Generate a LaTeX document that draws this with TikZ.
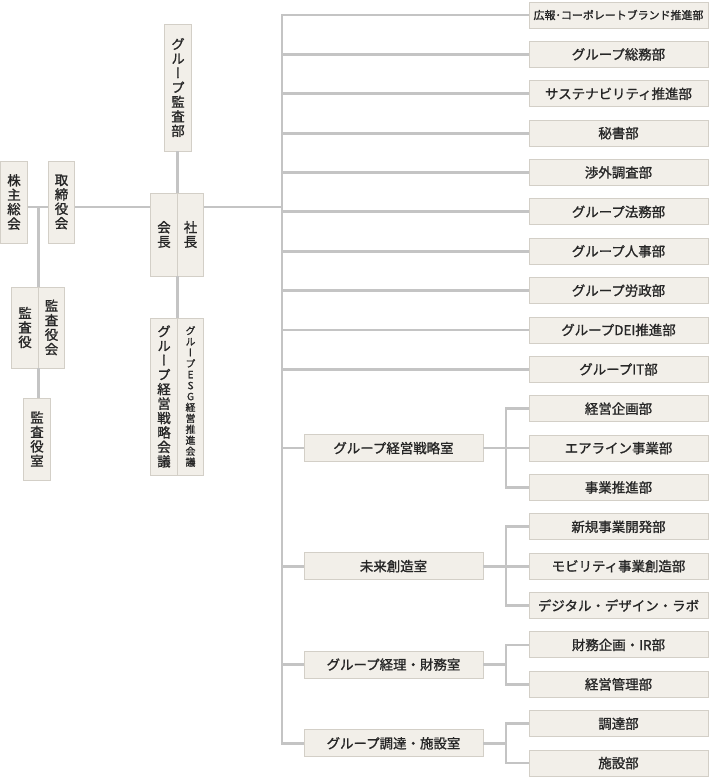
\documentclass[tikz,border=0pt]{standalone}
\usepackage{fontspec}
\setmainfont[FakeBold=1.2]{Noto Sans CJK JP}
\newfontfamily\tatefont[RawFeature={+vert},FakeBold=1.2]{Noto Sans CJK JP}
\definecolor{boxfill}{HTML}{F2EFE9}
\definecolor{boxline}{HTML}{D3CFC7}
\definecolor{connline}{HTML}{C4C4C4}
\definecolor{textgray}{HTML}{262626}

\begin{document}
\begin{tikzpicture}[x=1bp,y=-1bp,
    box/.style={draw=boxline, fill=boxfill, line width=0.9bp, inner sep=0pt, text=textgray,
        font=\fontsize{13.5}{14.5}\selectfont},
    dept/.style={box, minimum width=179bp, minimum height=26bp},
    office/.style={box, minimum width=179bp, minimum height=27bp},
    tate/.style={box, align=center, minimum width=26.5bp,
        font=\tatefont\fontsize{13.5}{14.5}\selectfont},
    conn/.style={draw=connline, line width=2.8bp}]
    \def\gap{39.37}; % Distance between the boxes on the right

    \useasboundingbox (0,0) rectangle (710,779);

    % Boxes of the right column
    \node[dept, font=\fontsize{11}{12}\selectfont] (d0) at (618.5,15) {広報･コーポレートブランド推進部};
    \foreach \t [count=\i from 1] in {グループ総務部, サステナビリティ推進部, 秘書部, 渉外調査部,
        グループ法務部, グループ人事部, グループ労政部, グループDEI推進部, グループIT部,
        経営企画部, エアライン事業部, 事業推進部, 新規事業開発部, モビリティ事業創造部,
        デジタル・デザイン・ラボ, 財務企画・IR部, 経営管理部, 調達部, 施設部} {
        \node[dept] (d\i) at (618.5,{15+\gap*\i}) {\t};
    }

    % Offices in the middle column
    \node[office] (s1) at (393.5,{15+\gap*11}) {グループ経営戦略室};
    \node[office] (s2) at (393.5,{15+\gap*14}) {未来創造室};
    \node[office] (s3) at (393.5,{15+\gap*16.5}) {グループ経理・財務室};
    \node[office] (s4) at (393.5,{15+\gap*18.5}) {グループ調達・施設室};

    % Vertical boxes on the left
    \node[tate, minimum height=82bp] (share) at (14,202) {株\\主\\総\\会};
    \node[tate, minimum height=82bp] (board) at (61.5,202) {取\\締\\役\\会};
    \node[tate, minimum height=81bp] (kansa) at (25,327.5) {監\\査\\役};
    \node[tate, minimum height=81bp] (kansakai) at (51.5,327.5) {監\\査\\役\\会};
    \node[tate, minimum height=82bp] (kansashitsu) at (37,439) {監\\査\\役\\室};
    \node[tate, minimum height=127bp] (audit) at (178,87.5) {グ\\ル\\ー\\プ\\監\\査\\部};
    \node[tate, minimum height=83bp] (chair) at (164,234.5) {会\\長};
    \node[tate, minimum height=83bp] (pres) at (190.5,234.5) {社\\長};
    \node[tate, minimum height=157bp] (senryaku) at (164,396.5) {グ\\ル\\ー\\プ\\経\\営\\戦\\略\\会\\議};
    \node[tate, minimum height=157bp, font=\tatefont\fontsize{10}{11}\selectfont] (esg) at (190.5,396.5)
        {グ\\ル\\ー\\プ\\E\\S\\G\\経\\営\\推\\進\\会\\議};

    % Lines on the left
    \coordinate (lvl) at (0,207);
    \coordinate (trunk) at (282,0);
    \coordinate (sub) at (506,0);
    \draw[conn] (share.east |- lvl) -- (board.west |- lvl);
    \draw[conn] (board.east |- lvl) -- (chair.west |- lvl);
    \draw[conn] (pres.east |- lvl) -- (trunk |- lvl);
    \draw[conn] (kansa.east |- lvl) -- (kansa.north east);
    \draw[conn] (kansa.south east) -- (kansa.south east |- kansashitsu.north);
    \draw[conn] (chair.north east |- audit.south) -- (chair.north east);
    \draw[conn] (chair.south east) -- (chair.south east |- senryaku.north);

    % Main line and its branches
    \draw[conn] (d0.west) -- (trunk |- d0.west) -- (trunk |- s4.west) -- (s4.west);
    \foreach \i in {1,...,9} {
        \draw[conn] (trunk |- d\i.west) -- (d\i.west);
    }
    \foreach \s in {s1,s2,s3} {
        \draw[conn] (trunk |- \s.west) -- (\s.west);
    }

    % Branches of the offices
    \foreach \s/\a/\b in {s1/10/12, s2/13/15, s3/16/17, s4/18/19} {
        \draw[conn] (d\a.west) -- (sub |- d\a.west) -- (sub |- d\b.west) -- (d\b.west);
        \draw[conn] (\s.east) -- (sub |- \s.east);
        \foreach \i in {\a,...,\b} {
            \draw[conn] (sub |- d\i.west) -- (d\i.west);
        }
    }
\end{tikzpicture}
\end{document}
